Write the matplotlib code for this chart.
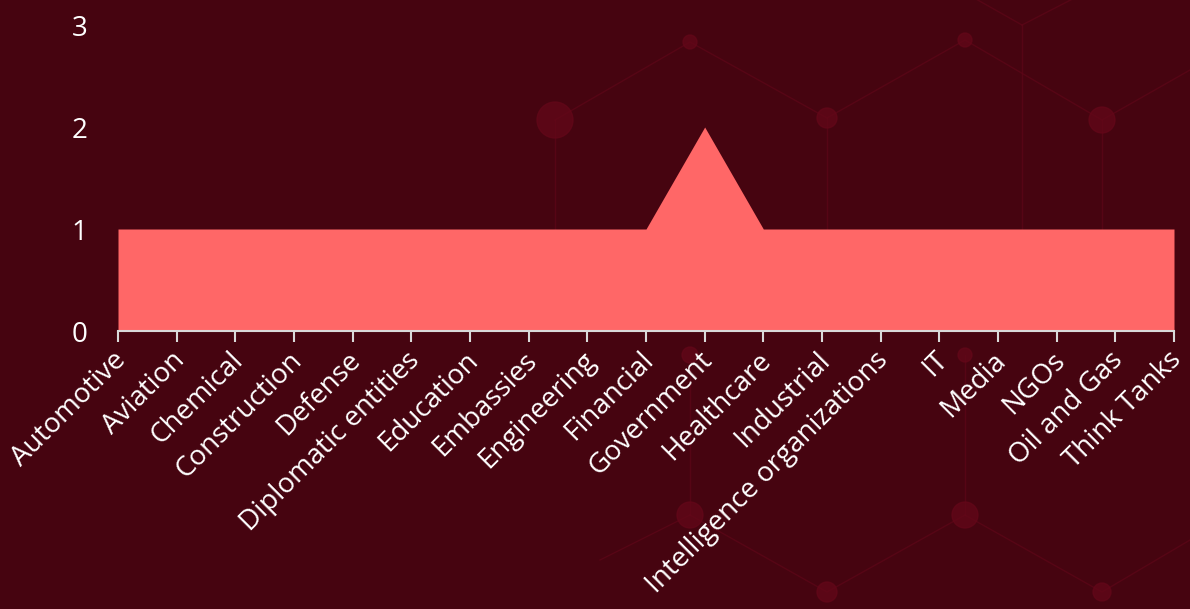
import matplotlib.pyplot as plt
import matplotlib.transforms as mtransforms
from matplotlib.patches import Circle
from matplotlib.lines import Line2D

sectors = ['Automotive', 'Aviation', 'Chemical', 'Construction', 'Defense',
           'Diplomatic entities', 'Education', 'Embassies', 'Engineering',
           'Financial', 'Government', 'Healthcare', 'Industrial',
           'Intelligence organizations', 'IT', 'Media', 'NGOs',
           'Oil and Gas', 'Think Tanks']
counts = [1, 1, 1, 1, 1, 1, 1, 1, 1, 1, 2, 1, 1, 1, 1, 1, 1, 1, 1]
y_ticks = [0, 1, 2, 3]

bg = '#460410'
fill_col = '#ff6767'
axis_col = '#d9d9d9'

plt.rcParams['font.family'] = ['Open Sans', 'DejaVu Sans']

fig = plt.figure(figsize=(11.9, 6.09), dpi=100, facecolor=bg)

# faint hexagon network in the background
W, H = 1190, 609
def px(x, y):
    return x / W, 1 - y / H

deco_col = '#5e0618'
segments = [
    [(555, 120), (690, 42), (827, 118), (965, 40), (1102, 120), (1190, 70)],
    [(555, 120), (555, 300)], [(827, 118), (827, 300)], [(1102, 120), (1102, 300)],
    [(1022, 25), (1022, 230)], [(1022, 25), (960, -10)], [(1022, 25), (1090, -10)],
    [(690, 355), (690, 515)], [(965, 355), (965, 515)],
    [(600, 560), (690, 515)], [(690, 515), (827, 592), (965, 515), (1102, 592), (1190, 540)],
]
for seg in segments:
    xs, ys = zip(*[px(x, y) for x, y in seg])
    fig.add_artist(Line2D(xs, ys, color=deco_col, lw=1.0, alpha=0.7, zorder=0))
circles = [(555, 120, 18), (690, 42, 7), (827, 118, 10), (965, 40, 7), (1102, 120, 13),
           (690, 355, 8), (965, 355, 7), (690, 515, 13), (965, 515, 13),
           (827, 592, 10), (1102, 592, 9)]
for x, y, r in circles:
    fig.add_artist(Circle((x, H - y), r, transform=None, color='#640719',
                          alpha=0.7, zorder=0))

ax = fig.add_axes([118 / W, 1 - 331 / H, (1174 - 118) / W, (331 - 25) / H])
ax.set_facecolor('none')

x = list(range(len(sectors)))
ax.fill_between(x, 0, counts, color=fill_col, linewidth=0, zorder=2)

ax.set_xlim(0, len(sectors) - 1)
ax.set_ylim(0, 3)
ax.set_yticks(y_ticks)
ax.set_xticks(x)
ax.set_xticklabels(sectors, rotation=45, ha='right', rotation_mode='anchor',
                   color='white', fontsize=20)
ax.tick_params(axis='y', length=0, pad=22, labelcolor='white', labelsize=20)
ax.tick_params(axis='x', length=8, width=1.5, color=axis_col, pad=3)

# nudge the slanted labels a little to the left
shift = mtransforms.ScaledTranslation(-6 / 100, 0, fig.dpi_scale_trans)
for lbl in ax.get_xticklabels():
    lbl.set_transform(lbl.get_transform() + shift)

for s in ['top', 'right', 'left']:
    ax.spines[s].set_visible(False)
ax.spines['bottom'].set_color(axis_col)
ax.spines['bottom'].set_linewidth(1.5)
ax.spines['bottom'].set_zorder(3)

fig.savefig('out.png', dpi=100, facecolor=bg)
